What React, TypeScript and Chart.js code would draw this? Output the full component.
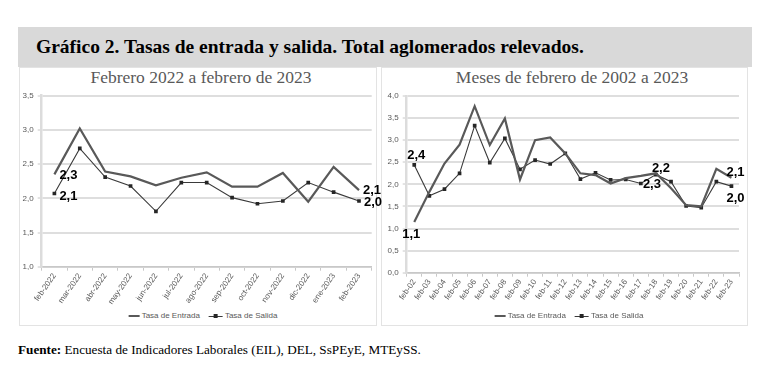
import React, { useEffect, useRef } from 'react';
import { Chart, registerables } from 'chart.js';

Chart.register(...registerables);

// ---------- DATA ----------
const titleText = 'Gráfico 2. Tasas de entrada y salida. Total aglomerados relevados.';
const leftSubtitle = 'Febrero 2022 a febrero de 2023';
const rightSubtitle = 'Meses de febrero de 2002 a 2023';
const sourceLabel = 'Fuente:';
const sourceText = ' Encuesta de Indicadores Laborales (EIL), DEL, SsPEyE, MTEySS.';
const seriesNames = ['Tasa de Entrada', 'Tasa de Salida'];

const leftCategories = [
  'feb-2022', 'mar-2022', 'abr-2022', 'may-2022', 'jun-2022', 'jul-2022', 'ago-2022',
  'sep-2022', 'oct-2022', 'nov-2022', 'dic-2022', 'ene-2023', 'feb-2023',
];
const leftEntrada = [2.35, 3.02, 2.39, 2.32, 2.19, 2.30, 2.38, 2.17, 2.17, 2.37, 1.95, 2.46, 2.12];
const leftSalida = [2.07, 2.73, 2.31, 2.18, 1.81, 2.23, 2.23, 2.01, 1.92, 1.96, 2.23, 2.09, 1.96];
const leftYRange = [1.0, 3.5];
const leftNoteTexts = ['2,3', '2,1', '2,1', '2,0'];

const rightCategories = [
  'feb-02', 'feb-03', 'feb-04', 'feb-05', 'feb-06', 'feb-07', 'feb-08', 'feb-09', 'feb-10', 'feb-11', 'feb-12',
  'feb-13', 'feb-14', 'feb-15', 'feb-16', 'feb-17', 'feb-18', 'feb-19', 'feb-20', 'feb-21', 'feb-22', 'feb-23',
];
const rightEntrada = [1.15, 1.83, 2.47, 2.90, 3.77, 2.89, 3.49, 2.11, 3.00, 3.06, 2.70, 2.25, 2.21, 2.02, 2.14, 2.19, 2.25, 1.91, 1.53, 1.50, 2.35, 2.15];
const rightSalida = [2.44, 1.74, 1.89, 2.25, 3.33, 2.49, 3.04, 2.34, 2.55, 2.46, 2.70, 2.12, 2.26, 2.10, 2.11, 2.02, 2.22, 2.06, 1.51, 1.47, 2.06, 1.96];
const rightYRange = [0.0, 4.0];
const rightNoteTexts = ['2,4', '1,1', '2,1', '2,0', '2,2', '2,3'];

// ---------- STYLE / PLACEMENT ----------
const SANS = '"Liberation Sans", Arial, sans-serif';
const SERIF = '"Liberation Serif", "Times New Roman", serif';

const leftNotePlacement = [
  { ds: 0, i: 0, dx: 5, dy: 1, align: 'left' },
  { ds: 1, i: 0, dx: 5, dy: 3, align: 'left' },
  { ds: 0, i: 12, dx: 4, dy: 0, align: 'left' },
  { ds: 1, i: 12, dx: 5, dy: 1, align: 'left' },
];
const rightNotePlacement = [
  { ds: 1, i: 0, dx: 2, dy: -9, align: 'center' },
  { ds: 0, i: 0, dx: -3, dy: 13, align: 'center' },
  { ds: 0, i: 21, dx: 4, dy: -5, align: 'center' },
  { ds: 1, i: 21, dx: 4, dy: 12, align: 'center' },
  { ds: 0, i: 16, dx: 5, dy: -5, align: 'center' },
  { ds: 1, i: 16, dx: -4, dy: 10, align: 'center' },
];

const notesPlugin = {
  id: 'notes',
  afterDatasetsDraw(chart: any, _args: any, opts: any) {
    const items = opts && opts.items ? opts.items : [];
    const ctx = chart.ctx;
    ctx.save();
    ctx.font = 'bold 13px ' + SANS;
    ctx.fillStyle = '#000000';
    ctx.textBaseline = 'middle';
    for (const n of items) {
      const el = chart.getDatasetMeta(n.ds).data[n.i];
      if (!el) continue;
      ctx.textAlign = n.align;
      ctx.fillText(n.text, el.x + n.dx, el.y + n.dy);
    }
    ctx.restore();
  },
};

type Geom = { x: number; y: number; w: number; h: number; padL: number; padR: number; padT: number; yW: number; xH: number };

function LineChart(props: {
  categories: string[];
  entrada: number[];
  salida: number[];
  yRange: number[];
  notes: any[];
  geom: Geom;
}) {
  const ref = useRef<HTMLCanvasElement>(null);
  const { categories, entrada, salida, yRange, notes, geom } = props;
  useEffect(() => {
    const fmt = (v: any) => Number(v).toFixed(1).replace('.', ',');
    const chart = new Chart(ref.current as HTMLCanvasElement, {
      type: 'line',
      data: {
        labels: categories,
        datasets: [
          {
            label: seriesNames[0],
            data: entrada,
            borderColor: '#595959',
            borderWidth: 2.2,
            pointRadius: 0,
            tension: 0,
          },
          {
            label: seriesNames[1],
            data: salida,
            borderColor: '#3a3a3a',
            borderWidth: 1.1,
            pointRadius: 2.6,
            pointStyle: 'rect',
            pointBackgroundColor: '#262626',
            pointBorderColor: '#262626',
            pointBorderWidth: 0,
            tension: 0,
          },
        ],
      },
      options: {
        animation: false,
        responsive: false,
        maintainAspectRatio: false,
        layout: { padding: { top: geom.padT, left: geom.padL, right: geom.padR, bottom: 0 } },
        plugins: {
          legend: { display: false },
          tooltip: { enabled: false },
          title: { display: false },
          notes: { items: notes },
        } as any,
        scales: {
          x: {
            offset: true,
            grid: { offset: true, drawOnChartArea: false, drawTicks: true, tickLength: 4, color: '#c8c8c8' },
            border: { color: '#c8c8c8', width: 1.5 },
            ticks: {
              autoSkip: false,
              minRotation: 55,
              maxRotation: 55,
              padding: 1,
              color: '#595959',
              font: { size: 8, family: SANS },
            },
            afterFit: (s: any) => { s.height = geom.xH; },
          },
          y: {
            min: yRange[0],
            max: yRange[1],
            ticks: {
              stepSize: 0.5,
              padding: 4,
              color: '#595959',
              font: { size: 8, family: SANS },
              callback: fmt,
            },
            grid: { color: '#dedede', lineWidth: 2, tickLength: 4, drawTicks: true, tickColor: '#c8c8c8', tickWidth: 1 },
            border: { color: '#dcdcdc', width: 2.5 },
            afterFit: (s: any) => { s.width = geom.yW; },
          },
        },
      } as any,
      plugins: [notesPlugin],
    });
    return () => chart.destroy();
  }, []);
  return (
    <canvas
      ref={ref}
      width={geom.w}
      height={geom.h}
      style={{ position: 'absolute', left: geom.x, top: geom.y, width: geom.w, height: geom.h }}
    />
  );
}

function Legend(props: { cx: number; top: number }) {
  return (
    <div
      style={{
        position: 'absolute',
        left: props.cx,
        top: props.top,
        transform: 'translateX(-50%)',
        display: 'flex',
        alignItems: 'center',
        whiteSpace: 'nowrap',
        fontFamily: SANS,
        fontSize: 8,
        lineHeight: '10px',
        color: '#595959',
      }}
    >
      <span style={{ display: 'inline-block', width: 11, height: 2, background: '#595959', marginRight: 2 }} />
      <span>{seriesNames[0]}</span>
      <span style={{ display: 'inline-block', position: 'relative', width: 14, height: 8, marginLeft: 9, marginRight: 2 }}>
        <span style={{ position: 'absolute', left: 0, top: 3.5, width: 14, height: 1, background: '#3a3a3a' }} />
        <span style={{ position: 'absolute', left: 5, top: 2, width: 4, height: 4, background: '#262626' }} />
      </span>
      <span>{seriesNames[1]}</span>
    </div>
  );
}

export default function App() {
  const leftNotes = leftNotePlacement.map((p, k) => ({ ...p, text: leftNoteTexts[k] }));
  const rightNotes = rightNotePlacement.map((p, k) => ({ ...p, text: rightNoteTexts[k] }));
  const leftGeom: Geom = { x: 20, y: 85, w: 362, h: 225, padL: 0.7, padR: 10.3, padT: 10.7, yW: 21, xH: 43.3 };
  const rightGeom: Geom = { x: 380, y: 85, w: 368, h: 225, padL: 4.7, padR: 9, padT: 11, yW: 22, xH: 37.3 };
  return (
    <div
      style={{
        position: 'fixed',
        left: 0,
        top: 0,
        width: 784,
        height: 388,
        background: '#ffffff',
        overflow: 'hidden',
        fontFamily: SERIF,
      }}
    >
      <div style={{ position: 'absolute', left: 18, top: 27, width: 734, height: 40, background: '#d9d9d9' }} />
      <div
        style={{
          position: 'absolute',
          left: 36,
          top: 36,
          fontSize: 19.5,
          lineHeight: '22px',
          fontWeight: 'bold',
          color: '#000',
          whiteSpace: 'nowrap',
        }}
      >
        {titleText}
      </div>
      <div style={{ position: 'absolute', left: 19, top: 67, width: 358, height: 259, border: '1px solid #e3e3e3', boxSizing: 'border-box' }} />
      <div style={{ position: 'absolute', left: 381, top: 67, width: 367, height: 259, border: '1px solid #e3e3e3', boxSizing: 'border-box' }} />
      <div style={{ position: 'absolute', left: 201, top: 67, transform: 'translateX(-50%)', fontSize: 17.5, lineHeight: '20px', color: '#595959', whiteSpace: 'nowrap' }}>
        {leftSubtitle}
      </div>
      <div style={{ position: 'absolute', left: 572, top: 67, transform: 'translateX(-50%)', fontSize: 17.5, lineHeight: '20px', color: '#595959', whiteSpace: 'nowrap' }}>
        {rightSubtitle}
      </div>
      <LineChart categories={leftCategories} entrada={leftEntrada} salida={leftSalida} yRange={leftYRange} notes={leftNotes} geom={leftGeom} />
      <LineChart categories={rightCategories} entrada={rightEntrada} salida={rightSalida} yRange={rightYRange} notes={rightNotes} geom={rightGeom} />
      <Legend cx={203} top={311} />
      <Legend cx={569} top={311} />
      <div style={{ position: 'absolute', left: 18, top: 342, fontSize: 13.2, lineHeight: '16px', color: '#000', whiteSpace: 'nowrap' }}>
        <b>{sourceLabel}</b>
        {sourceText}
      </div>
    </div>
  );
}
